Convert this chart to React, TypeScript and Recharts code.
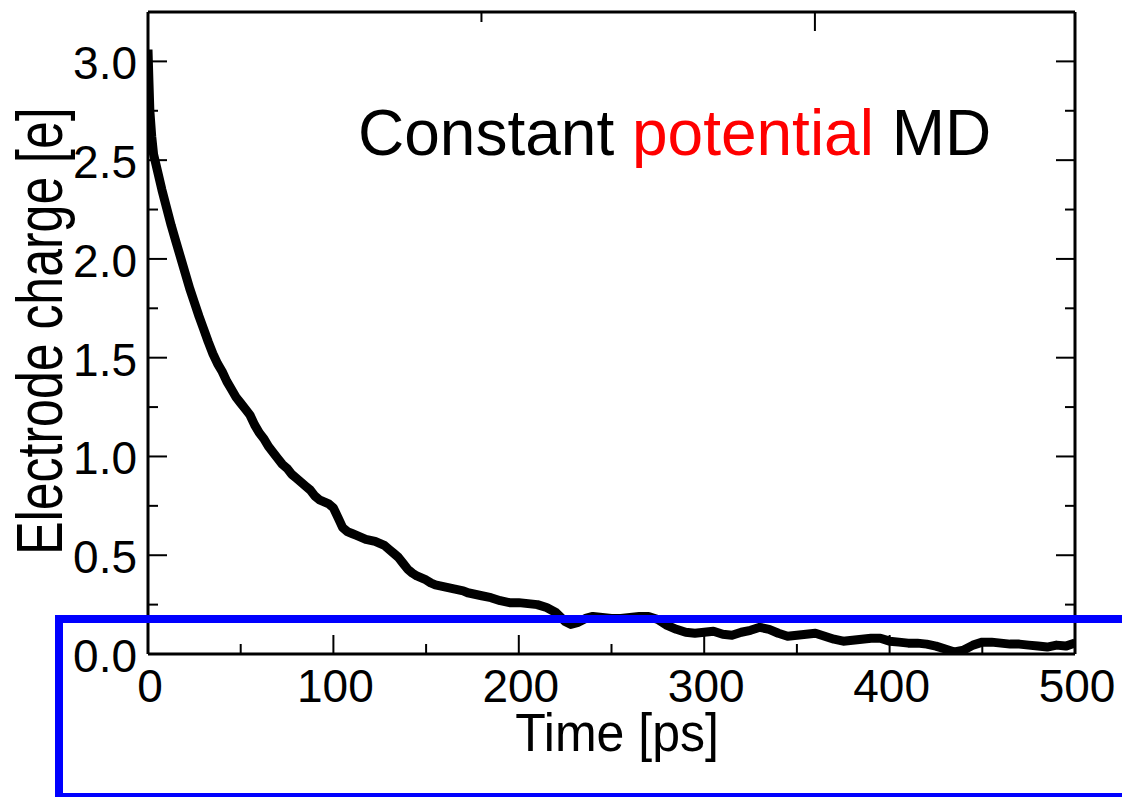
import React from 'react';
import { LineChart, Line, XAxis, YAxis } from 'recharts';

// time axis [ps] and electrode charge [e]
const times = [
  0, 0.5, 1, 2, 3, 5, 7.5, 10, 12.5, 15, 17.5, 20, 22.5, 25, 27.5, 30, 32.5, 35, 37.5, 40,
  42.5, 45, 47.5, 50, 52.5, 55, 57.5, 60, 62.5, 65, 67.5, 70, 72.5, 75, 77.5, 80, 82.5, 85,
  87.5, 90, 92.5, 95, 97.5, 100, 102.5, 105, 107.5, 110, 112.5, 115, 117.5, 120, 122.5, 125,
  127.5, 130, 132.5, 135, 137.5, 140, 142.5, 145, 147.5, 150, 152.5, 155, 157.5, 160, 162.5,
  165, 167.5, 170, 172.5, 175, 180, 185, 190, 195, 200, 205, 210, 215, 220, 225, 228, 232,
  236, 240, 245, 250, 255, 260, 265, 270, 275, 280, 285, 290, 295, 300, 305, 310, 315, 320,
  325, 330, 335, 340, 345, 350, 355, 360, 365, 370, 375, 380, 385, 390, 395, 400, 405, 410,
  415, 420, 425, 430, 435, 440, 445, 450, 455, 460, 465, 470, 475, 480, 485, 490, 495, 500,
];

const charge = [
  3.06, 2.9, 2.75, 2.62, 2.53, 2.45, 2.35, 2.26, 2.17, 2.09, 2.01, 1.93, 1.85, 1.78, 1.71, 1.645, 1.58, 1.52, 1.47, 1.43,
  1.38, 1.34, 1.3, 1.27, 1.24, 1.21, 1.16, 1.12, 1.09, 1.05, 1.02, 0.99, 0.96, 0.94, 0.91, 0.89, 0.87, 0.85,
  0.83, 0.8, 0.78, 0.77, 0.76, 0.74, 0.69, 0.64, 0.62, 0.61, 0.6, 0.59, 0.58, 0.575, 0.57, 0.56,
  0.55, 0.53, 0.51, 0.49, 0.46, 0.43, 0.41, 0.395, 0.385, 0.375, 0.36, 0.35, 0.345, 0.34, 0.335,
  0.33, 0.325, 0.32, 0.31, 0.305, 0.295, 0.285, 0.27, 0.26, 0.26, 0.255, 0.25, 0.235, 0.21, 0.165, 0.15, 0.16,
  0.18, 0.19, 0.185, 0.18, 0.18, 0.185, 0.19, 0.19, 0.175, 0.145, 0.125, 0.11, 0.105, 0.11, 0.115, 0.1, 0.095, 0.11,
  0.12, 0.135, 0.125, 0.105, 0.09, 0.095, 0.1, 0.105, 0.09, 0.075, 0.065, 0.07, 0.075, 0.08, 0.08, 0.065, 0.06, 0.055,
  0.055, 0.05, 0.04, 0.025, 0.01, 0.02, 0.045, 0.06, 0.06, 0.055, 0.05, 0.05, 0.045, 0.04, 0.035, 0.045, 0.04, 0.055,
];

const xTicks = [0, 50, 100, 150, 200, 250, 300, 350, 400, 450, 500];
const xLabels = [0, 100, 200, 300, 400, 500];
const yTicks = [0, 0.25, 0.5, 0.75, 1, 1.25, 1.5, 1.75, 2, 2.25, 2.5, 2.75, 3];
const yLabels = [0, 0.5, 1, 1.5, 2, 2.5, 3];

const data = times.map((t, i) => ({ t, q: charge[i] }));

const FONT = '"Liberation Sans", Arial, sans-serif';
const MAJOR = 19;
const MINOR = 10;

const isMajorX = (v: number) => xLabels.includes(v);
const isMajorY = (v: number) => yLabels.includes(v);

function BottomTick({ x, y, payload }: any) {
  const major = isMajorX(payload.value);
  return (
    <g>
      <line x1={x} y1={y} x2={x} y2={y - (major ? MAJOR : MINOR)} stroke="#000" strokeWidth={2} />
      {major && (
        <text x={x + 2} y={y + 48} textAnchor="middle" fontSize={46} fontFamily={FONT} fill="#000">
          {payload.value}
        </text>
      )}
    </g>
  );
}

function TopTick({ x, y, payload }: any) {
  const major = isMajorX(payload.value);
  return <line x1={x} y1={y} x2={x} y2={y + (major ? MAJOR : MINOR)} stroke="#000" strokeWidth={2} />;
}

function LeftTick({ x, y, payload }: any) {
  const major = isMajorY(payload.value);
  return (
    <g>
      <line x1={x} y1={y} x2={x + (major ? MAJOR : MINOR)} y2={y} stroke="#000" strokeWidth={2} />
      {major && (
        <text x={x - 11} y={y + 18} textAnchor="end" fontSize={46} fontFamily={FONT} fill="#000">
          {payload.value.toFixed(1)}
        </text>
      )}
    </g>
  );
}

function RightTick({ x, y, payload }: any) {
  const major = isMajorY(payload.value);
  return <line x1={x} y1={y} x2={x - (major ? MAJOR : MINOR)} y2={y} stroke="#000" strokeWidth={2} />;
}

const frame = { stroke: '#000', strokeWidth: 3 };

export default function App() {
  return (
    <div
      style={{
        position: 'absolute',
        left: 0,
        top: 0,
        width: 1122,
        height: 797,
        overflow: 'hidden',
        background: '#fff',
      }}
    >
      <LineChart width={1122} height={797} data={data} margin={{ top: 11, right: 46, bottom: 142, left: 147 }}>
        <XAxis
          xAxisId="bottom"
          dataKey="t"
          type="number"
          domain={[0, 500]}
          ticks={xTicks}
          interval={0}
          height={1}
          tickSize={0}
          tickMargin={0}
          tickLine={false}
          axisLine={frame}
          tick={<BottomTick />}
          allowDataOverflow
        />
        <XAxis
          xAxisId="top"
          orientation="top"
          type="number"
          domain={[0, 500]}
          ticks={xTicks}
          interval={0}
          height={1}
          tickSize={0}
          tickMargin={0}
          tickLine={false}
          axisLine={frame}
          tick={<TopTick />}
          allowDataOverflow
        />
        <YAxis
          yAxisId="left"
          type="number"
          domain={[0, 3.25]}
          ticks={yTicks}
          interval={0}
          width={1}
          tickSize={0}
          tickMargin={0}
          tickLine={false}
          axisLine={frame}
          tick={<LeftTick />}
          allowDataOverflow
        />
        <YAxis
          yAxisId="right"
          orientation="right"
          type="number"
          domain={[0, 3.25]}
          ticks={yTicks}
          interval={0}
          width={1}
          tickSize={0}
          tickMargin={0}
          tickLine={false}
          axisLine={frame}
          tick={<RightTick />}
          allowDataOverflow
        />
        <Line
          xAxisId="bottom"
          yAxisId="left"
          type="linear"
          dataKey="q"
          stroke="#000"
          strokeWidth={9}
          strokeLinejoin="round"
          dot={false}
          isAnimationActive={false}
        />
      </LineChart>
      <svg
        width={1122}
        height={797}
        style={{ position: 'absolute', left: 0, top: 0, pointerEvents: 'none' }}
        fontFamily={FONT}
      >
        <text x={358} y={155} fontSize={64} fill="#000">
          Constant <tspan fill="#ff0000">potential</tspan> MD
        </text>
        <text x={617} y={751} textAnchor="middle" fontSize={50} fill="#000" transform="translate(0 -45) scale(1 1.06)">
          Time [ps]
        </text>
        <text
          x={0}
          y={0}
          textAnchor="middle"
          fontSize={50}
          fill="#000"
          transform="translate(62 331) rotate(-90) scale(1 1.3)"
        >
          Electrode charge [e]
        </text>
        <rect x={59} y={619} width={1100} height={178} fill="none" stroke="#0000ff" strokeWidth={8} />
      </svg>
    </div>
  );
}
